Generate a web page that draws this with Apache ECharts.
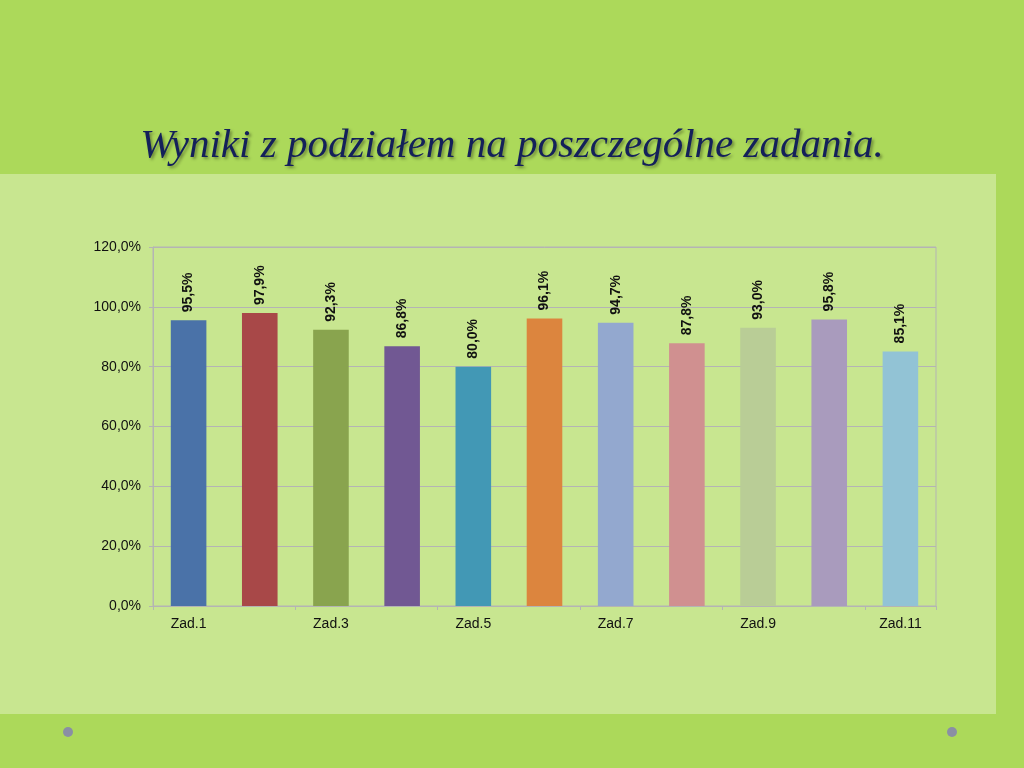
<!DOCTYPE html>
<html><head><meta charset="utf-8">
<script src="https://cdn.jsdelivr.net/npm/echarts@6/dist/echarts.min.js"></script>
<style>html,body{margin:0;padding:0;background:#acd95a;}#c{width:1024px;height:768px;}</style>
</head><body><div id="c"></div>
<script>
var categories = ['Zad.1','Zad.2','Zad.3','Zad.4','Zad.5','Zad.6','Zad.7','Zad.8','Zad.9','Zad.10','Zad.11'];
var values = [95.5, 97.9, 92.3, 86.8, 80.0, 96.1, 94.7, 87.8, 93.0, 95.8, 85.1];
var barColors = ['#4a72a8','#a84848','#89a44e','#715893','#4298b5','#dc853e','#93a8cf','#d09090','#b9cd96','#a99bbd','#92c3d5'];
var titleText = 'Wyniki z podziałem na poszczególne zadania.';

function pct(v){ return v.toFixed(1).replace('.', ',') + '%'; }

var chart = echarts.init(document.getElementById('c'));
chart.setOption({
  backgroundColor: '#acd95a',
  animation: false,
  title: {
    text: titleText,
    left: 'center',
    top: 121,
    textStyle: {
      fontFamily: 'Liberation Serif',
      fontStyle: 'italic',
      fontWeight: 'normal',
      fontSize: 41,
      color: '#14205a',
      textShadowColor: 'rgba(0,0,0,0.35)',
      textShadowBlur: 3,
      textShadowOffsetX: 2,
      textShadowOffsetY: 2
    }
  },
  graphic: [
    { type: 'rect', z: -10, shape: { x: 0, y: 174, width: 996, height: 540 }, style: { fill: '#c8e690' } },
    { type: 'circle', shape: { cx: 68, cy: 732, r: 5 }, style: { fill: '#8a8fa4' } },
    { type: 'circle', shape: { cx: 952, cy: 732, r: 5 }, style: { fill: '#8a8fa4' } }
  ],
  grid: { left: 153, right: 88, top: 247, bottom: 162, show: true, borderColor: '#b4b4b4', borderWidth: 1 },
  xAxis: {
    type: 'category',
    data: categories,
    axisLine: { lineStyle: { color: '#b4b4b4' } },
    axisTick: { show: true, length: 4, lineStyle: { color: '#b4b4b4' } },
    axisLabel: { interval: 1, color: '#111', fontFamily: 'Liberation Sans', fontSize: 14, margin: 11 }
  },
  yAxis: {
    type: 'value',
    min: 0, max: 120, interval: 20,
    axisLine: { show: true, lineStyle: { color: '#b4b4b4' } },
    axisTick: { show: true, length: 4, lineStyle: { color: '#b4b4b4' } },
    splitLine: { lineStyle: { color: '#b4b4b4' } },
    axisLabel: { color: '#111', fontFamily: 'Liberation Sans', fontSize: 14, margin: 12, formatter: function(v){ return pct(v); } }
  },
  series: [{
    type: 'bar',
    barWidth: '50%',
    data: values.map(function(v, i){ return { value: v, itemStyle: { color: barColors[i] } }; }),
    label: {
      show: true,
      position: 'top',
      rotate: 90,
      align: 'left',
      verticalAlign: 'middle',
      distance: 8,
      color: '#111',
      fontFamily: 'Liberation Sans',
      fontWeight: 'bold',
      fontSize: 14,
      formatter: function(p){ return pct(p.value); }
    }
  }]
});
</script></body></html>
